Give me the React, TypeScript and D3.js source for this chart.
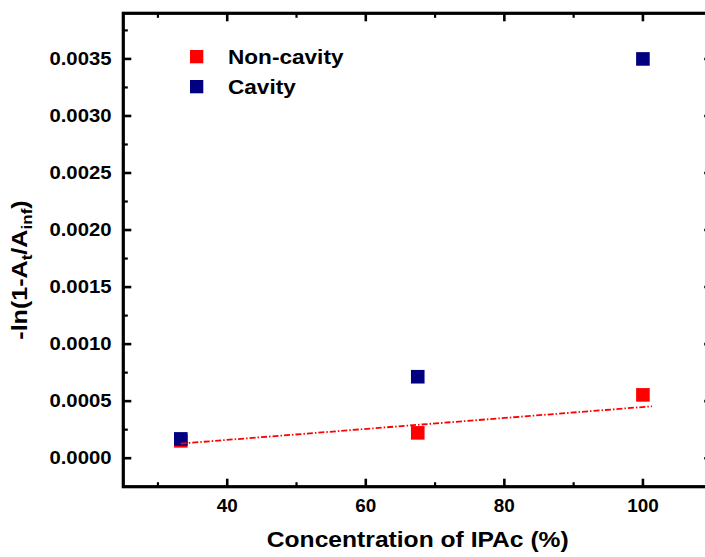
import React from "react";
import * as d3 from "d3";

const concentration = [33.3, 67.5, 100];
const nonCavity = [0.000152, 0.000222, 0.000555];
const cavity = [0.000169, 0.000714, 0.0035];
const fitX = [33.3, 101.3];
const fitY = [0.000128, 0.000455];
const xMajor = [40, 60, 80, 100];
const xMinor = [30, 50, 70, 90];
const yMajor = [0, 0.0005, 0.001, 0.0015, 0.002, 0.0025, 0.003, 0.0035];
const yMinor = [0.00025, 0.00075, 0.00125, 0.00175, 0.00225, 0.00275, 0.00325, 0.00375];
const seriesNames = ["Non-cavity", "Cavity"];
const seriesColors = ["#FF0000", "#000080"];

const W = 705;
const H = 557;
const L = 123.3;
const R = 712.2;
const T = 13.3;
const B = 486.7;
const FONT = "'Liberation Sans', Arial, Helvetica, sans-serif";

export default function App() {
  const x = d3.scaleLinear().domain([25, 110]).range([L, R]);
  const y = d3.scaleLinear().domain([-0.00025, 0.0039]).range([B, T]);
  const fmt = d3.format(".4f");
  const sq = 13.6;
  const line = d3
    .line<number>()
    .x((_, i) => x(fitX[i]))
    .y((d) => y(d));

  const majLen = 8;
  const minLen = 4.5;

  return (
    <svg
      width={W}
      height={H}
      style={{ position: "absolute", left: 0, top: 0, background: "#fff" }}
      fontFamily={FONT}
      fontWeight="bold"
    >
      <rect x={0} y={0} width={W} height={H} fill="#fff" />
      {/* ticks */}
      {xMajor.map((v) => (
        <g key={"xM" + v} stroke="#000" strokeWidth={2.6}>
          <line x1={x(v)} x2={x(v)} y1={B} y2={B - majLen} />
          <line x1={x(v)} x2={x(v)} y1={T} y2={T + majLen} />
        </g>
      ))}
      {xMinor.map((v) => (
        <g key={"xm" + v} stroke="#000" strokeWidth={2.2}>
          <line x1={x(v)} x2={x(v)} y1={B} y2={B - minLen} />
          <line x1={x(v)} x2={x(v)} y1={T} y2={T + minLen} />
        </g>
      ))}
      {yMajor.map((v) => (
        <g key={"yM" + v} stroke="#000" strokeWidth={2.6}>
          <line x1={L} x2={L + majLen} y1={y(v)} y2={y(v)} />
          <line x1={R} x2={R - majLen} y1={y(v)} y2={y(v)} />
        </g>
      ))}
      {yMinor.map((v) => (
        <g key={"ym" + v} stroke="#000" strokeWidth={2.2}>
          <line x1={L} x2={L + minLen} y1={y(v)} y2={y(v)} />
          <line x1={R} x2={R - minLen} y1={y(v)} y2={y(v)} />
        </g>
      ))}
      {/* frame */}
      <rect x={L} y={T} width={R - L} height={B - T} fill="none" stroke="#000" strokeWidth={3.2} />
      {/* tick labels */}
      {xMajor.map((v) => (
        <text
          key={"xl" + v}
          transform={`translate(${x(v)},512) scale(1.08,1)`}
          textAnchor="middle"
          fontSize={17.5}
          fill="#000"
        >
          {v}
        </text>
      ))}
      {yMajor.map((v) => (
        <text
          key={"yl" + v}
          transform={`translate(111.5,${y(v)}) scale(1.16,1)`}
          dy="0.36em"
          textAnchor="end"
          fontSize={17.5}
          fill="#000"
        >
          {fmt(v)}
        </text>
      ))}
      {/* axis titles */}
      <text
        transform={`translate(${(L + R) / 2},546.5) scale(1.12,1)`}
        textAnchor="middle"
        fontSize={22}
        fill="#000"
      >
        Concentration of IPAc (%)
      </text>
      <text transform="translate(27,270) rotate(-90) scale(1.14,1)" textAnchor="middle" fontSize={22} fill="#000">
        -ln(1-A
        <tspan dy={5} fontSize={15}>t</tspan>
        <tspan dy={-5}>/A</tspan>
        <tspan dy={5} fontSize={15}>inf</tspan>
        <tspan dy={-5}>)</tspan>
      </text>
      {/* data */}
      {nonCavity.map((v, i) => (
        <rect key={"r" + i} x={x(concentration[i]) - sq / 2} y={y(v) - sq / 2} width={sq} height={sq} fill={seriesColors[0]} />
      ))}
      {cavity.map((v, i) => (
        <rect key={"b" + i} x={x(concentration[i]) - sq / 2} y={y(v) - sq / 2} width={sq} height={sq} fill={seriesColors[1]} />
      ))}
      <path d={line(fitY) || ""} fill="none" stroke="#FF0000" strokeWidth={1.8} strokeDasharray="6,2,1.5,2" />
      {/* legend */}
      {seriesNames.map((n, i) => (
        <g key={"lg" + i}>
          <rect x={190} y={50 + i * 30} width={13.3} height={13.3} fill={seriesColors[i]} />
          <text
            transform={`translate(228,${56.7 + i * 30}) scale(1.13,1)`}
            dy="0.36em"
            fontSize={20}
            fill="#000"
          >
            {n}
          </text>
        </g>
      ))}
    </svg>
  );
}
